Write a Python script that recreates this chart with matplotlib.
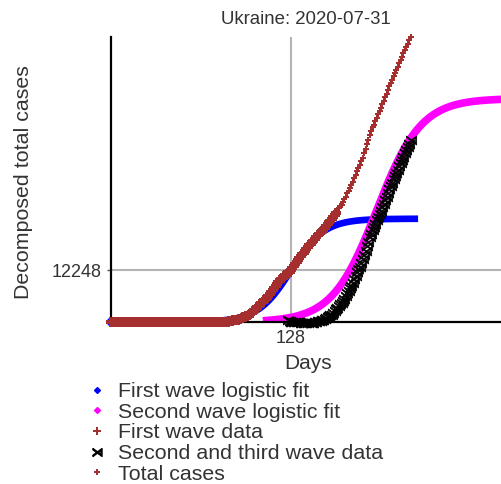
import numpy as np
import matplotlib.pyplot as plt
from matplotlib.lines import Line2D

plt.rcParams['font.family'] = ['Liberation Sans', 'DejaVu Sans']

######################
country = 'Ukraine'
date = '2020-07-31'

# cumulative confirmed cases, one value per day of year (day 0 .. 213)
total_cases = [0] * 63 + [
    1, 1, 1, 1, 1, 1, 1, 1, 1, 1,
    3, 3, 3, 7, 14, 16, 29, 47, 73, 73,
    97, 145, 196, 310, 356, 418, 475, 548, 645, 794,
    897, 1072, 1251, 1319, 1462, 1668, 1892, 2203, 2511, 2777,
    3102, 3372, 3764, 4161, 4400, 4662, 5106, 5449, 5710, 6125,
    6592, 7170, 7647, 8125, 8617, 9009, 9410, 9866, 10094, 10406,
    10861, 11176, 11411, 11657, 11913, 12331, 12697, 13184, 13691, 14195,
    14710, 15232, 15648, 16023, 16425, 16847, 17330, 17858, 18291, 18616,
    18876, 19230, 19706, 20148, 20580, 20986, 21245, 21584, 21905, 22382,
    22811, 23204, 23672, 24012, 24340, 24823, 25411, 25964, 26514, 27021,
    27462, 27856, 28381, 29070, 29753, 30506, 31154, 31810, 32476, 33234,
    34063, 34984, 35825, 36560, 37241, 38074, 39014, 40008, 41117, 42217,
    43224, 44334, 45254, 46140, 46763, 47646, 48454, 49246, 50010, 50797,
    51604, 52419, 53296, 54173, 55064, 55921, 56700, 57480, 58270, 59050,
    59830, 60600, 61380, 62150, 62930, 63700, 64480, 65260, 66040, 66810,
    67600,
]
first_wave_last_day = 160
second_wave_first_day = 126

# logistic fit parameters
first_mid_day = 128
first_half_cases = 12248
first_rate = 0.085
first_fit_end = 216

second_mid_day = 188.9
second_plateau = 53000
second_rate = 0.0634
second_fit_range = (110.7, 300)
##########################


def logistic(t, K, r, t0):
    return K / (1 + np.exp(-r * (t - t0)))


def main():
    days = np.arange(len(total_cases))
    total = np.array(total_cases, dtype=float)

    t1 = np.linspace(0, first_fit_end, 500)
    fit1 = logistic(t1, 2 * first_half_cases, first_rate, first_mid_day)
    t2 = np.linspace(*second_fit_range, 500)
    fit2 = logistic(t2, second_plateau, second_rate, second_mid_day)

    first = days <= first_wave_last_day
    second = days >= second_wave_first_day
    second_data = total[second] - logistic(days[second], 2 * first_half_cases,
                                           first_rate, first_mid_day)

    brown = '#a52f2f'
    fig = plt.figure(figsize=(5.02, 4.84), dpi=100)
    ax = fig.add_axes([111 / 502, 162 / 484, 390 / 502, 285 / 484])

    ax.axvline(first_mid_day, color='#b4b4b4', lw=1.5, zorder=0)
    ax.axhline(first_half_cases, color='#b4b4b4', lw=1.5, zorder=0)

    ax.plot(t1, fit1, color='blue', lw=4.8, clip_on=False, zorder=2)
    ax.plot(t2, fit2, color='magenta', lw=5.5, zorder=2)
    ax.plot(days[first], total[first], ls='none', marker='P', ms=6.5,
            color=brown, mew=0, clip_on=False, zorder=3)
    ax.plot(days[second], second_data, ls='none', marker='$\\rtimes$', ms=7.5,
            color='black', mew=0.5, clip_on=False, zorder=3.5)
    ax.plot(days, total, ls='none', marker='P', ms=5, color=brown, mew=0,
            clip_on=False, zorder=4)

    ax.set_xlim(0, 390 / 1.40625)
    ax.set_ylim(0, max(total_cases))
    ax.set_xticks([first_mid_day])
    ax.set_yticks([first_half_cases])
    ax.tick_params(length=3, width=1, color='#555555', labelsize=13,
                   labelcolor='#333333')
    ax.tick_params(axis='x', pad=2.5)
    ax.tick_params(axis='y', pad=3.5)
    for side in ('top', 'right'):
        ax.spines[side].set_visible(False)
    for side in ('left', 'bottom'):
        ax.spines[side].set_linewidth(1.6)
        ax.spines[side].set_zorder(2.5)

    ax.set_title('{}: {}'.format(country, date), fontsize=13.4,
                 color='#333333', pad=9.5)
    ax.set_xlabel('Days', fontsize=15, color='#333333')
    ax.xaxis.set_label_coords((308 - 111) / 390, -32 / 285)
    ax.set_ylabel('Decomposed total cases', fontsize=15.4, color='#333333')
    ax.yaxis.set_label_coords(-78 / 390, 0.49)

    handles = [
        Line2D([], [], ls='none', marker='D', ms=3, color='blue'),
        Line2D([], [], ls='none', marker='D', ms=3, color='magenta'),
        Line2D([], [], ls='none', marker='P', ms=6, color=brown, mew=0),
        Line2D([], [], ls='none', marker='$\\rtimes$', ms=6.5, color='black'),
        Line2D([], [], ls='none', marker='P', ms=4.5, color=brown, mew=0),
    ]
    labels = ['First wave logistic fit', 'Second wave logistic fit',
              'First wave data', 'Second and third wave data', 'Total cases']
    fig.legend(handles, labels, loc='upper left',
               bbox_to_anchor=(91 / 502, 1 - 382 / 484), frameon=False,
               fontsize=15.4, labelcolor='#333333', handlelength=0.6,
               handletextpad=0.65, labelspacing=0.08, borderpad=0,
               borderaxespad=0)

    fig.savefig('out.png', dpi=100)


if __name__ == '__main__':
    main()
